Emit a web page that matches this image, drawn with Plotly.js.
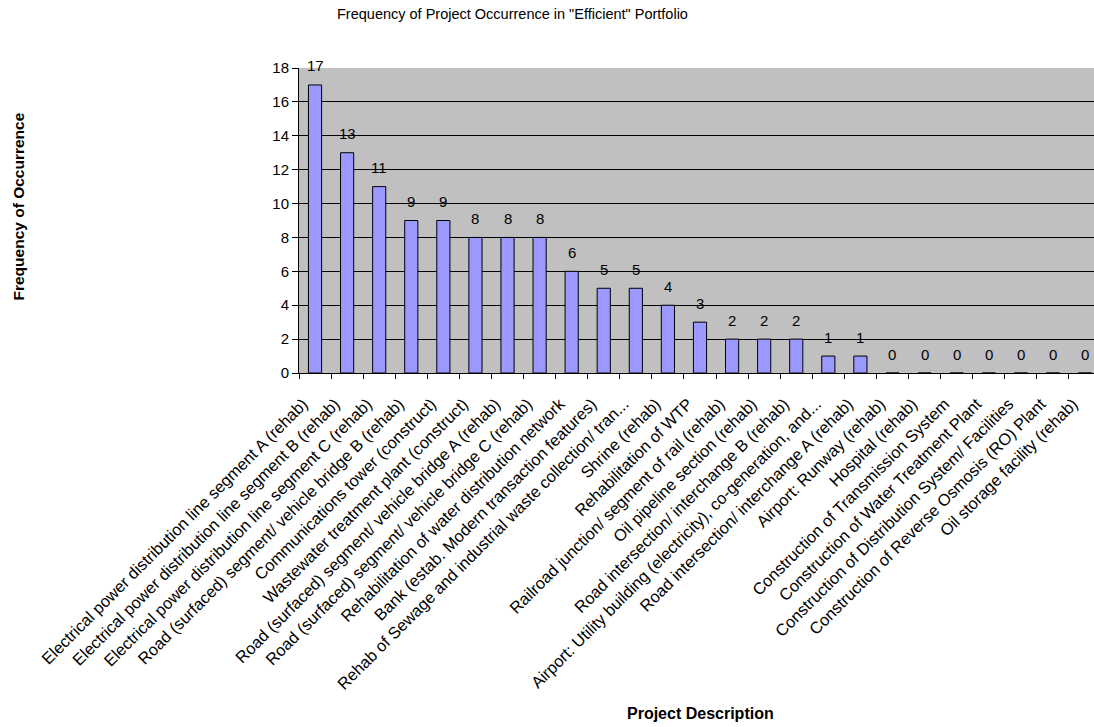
<!DOCTYPE html>
<html>
<head>
<meta charset="utf-8">
<script src="https://cdn.plot.ly/plotly-3.0.1.min.js"></script>
<style>
html, body { margin: 0; padding: 0; overflow: hidden; background: #fff; }
#chart { width: 1101px; height: 727px; }
</style>
</head>
<body>
<div id="chart"></div>
<script>
const categories = [
  "Electrical power distribution line segment A (rehab)",
  "Electrical power distribution line segment B (rehab)",
  "Electrical power distribution line segment C (rehab)",
  "Road (surfaced) segment/ vehicle bridge B (rehab)",
  "Communications tower (construct)",
  "Wastewater treatment plant (construct)",
  "Road (surfaced) segment/ vehicle bridge A (rehab)",
  "Road (surfaced) segment/ vehicle bridge C (rehab)",
  "Rehabilitation of water distribution network",
  "Bank (estab. Modern transaction features)",
  "Rehab of Sewage and industrial waste collection/ tran...",
  "Shrine (rehab)",
  "Rehabilitation of WTP",
  "Railroad junction/ segment of rail (rehab)",
  "Oil pipeline section (rehab)",
  "Road intersection/ interchange B (rehab)",
  "Airport: Utility building (electricity), co-generation, and...",
  "Road intersection/ interchange A (rehab)",
  "Airport: Runway (rehab)",
  "Hospital (rehab)",
  "Construction of Transmission System",
  "Construction of Water Treatment Plant",
  "Construction of Distribution System/ Facilities",
  "Construction of Reverse Osmosis (RO) Plant",
  "Oil storage facility (rehab)"
];
const frequency = [17, 13, 11, 9, 9, 8, 8, 8, 6, 5, 5, 4, 3, 2, 2, 2, 1, 1, 0, 0, 0, 0, 0, 0, 0];
const yTicks = [0, 2, 4, 6, 8, 10, 12, 14, 16, 18];

const FONT = "Liberation Sans, Arial, sans-serif";

const trace = {
  type: "bar",
  x: categories,
  y: frequency,
  width: 0.41,
  marker: { color: "#9999FF", line: { color: "#000000", width: 1 } },
  hoverinfo: "x+y"
};

const valueLabels = categories.map((c, i) => ({
  x: c, y: frequency[i], xref: "x", yref: "y",
  text: String(frequency[i]), showarrow: false,
  yanchor: "middle", yshift: 19, font: { family: FONT, size: 15, color: "#000" }
}));

const layout = {
  width: 1101, height: 727,
  margin: { l: 299, r: 0, t: 68, b: 354 },
  paper_bgcolor: "#ffffff",
  plot_bgcolor: "#C0C0C0",
  showlegend: false,
  bargap: 0,
  font: { family: FONT, color: "#000" },
  xaxis: {
    type: "category",
    tickangle: -45,
    tickson: "boundaries",
    ticks: "outside", ticklen: 5, tickcolor: "#000",
    ticklabelstandoff: 14,
    ticklabelshift: -12,
    showline: true, linecolor: "#000", linewidth: 1,
    showgrid: false,
    tickfont: { family: FONT, size: 16.4, color: "#000" },
    automargin: false
  },
  yaxis: {
    range: [0, 18],
    tickvals: yTicks,
    ticks: "outside", ticklen: 6, tickcolor: "#000",
    showline: true, linecolor: "#000", linewidth: 1,
    showgrid: true, gridcolor: "#000", gridwidth: 1,
    zeroline: false,
    tickfont: { family: FONT, size: 15, color: "#000" },
    automargin: false
  },
  annotations: valueLabels.concat([
    { text: "Frequency of Project Occurrence in \"Efficient\" Portfolio",
      xref: "paper", yref: "paper", x: (512 - 299) / 802, y: 1,
      xanchor: "center", yanchor: "middle", yshift: 54, showarrow: false,
      font: { family: FONT, size: 14.5, color: "#000" } },
    { text: "<b>Frequency of Occurrence</b>",
      xref: "paper", yref: "paper", x: 0, y: 0.5, xshift: -281, yshift: 14,
      textangle: -90, xanchor: "center", yanchor: "middle", showarrow: false,
      font: { family: FONT, size: 15.5, color: "#000" } },
    { text: "<b>Project Description</b>",
      xref: "paper", yref: "paper", x: (700 - 299) / 802, y: 0,
      xanchor: "center", yanchor: "middle", yshift: -340, showarrow: false,
      font: { family: FONT, size: 16, color: "#000" } }
  ])
};

Plotly.newPlot("chart", [trace], layout, { displayModeBar: false, staticPlot: true });
</script>
</body>
</html>
